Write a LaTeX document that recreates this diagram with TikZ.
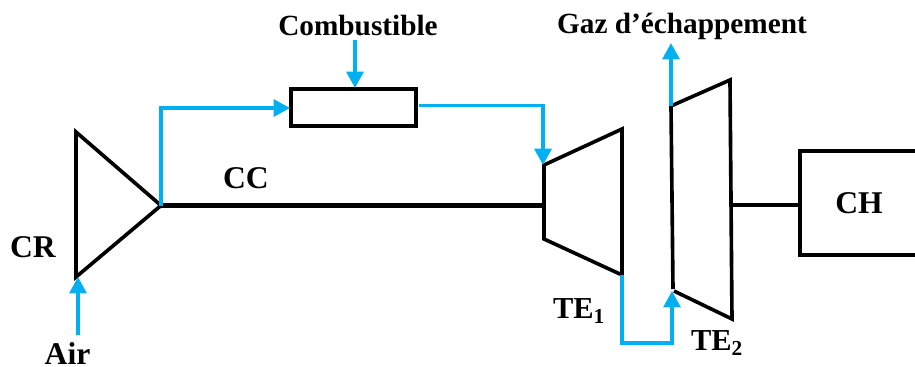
\documentclass[tikz,border=0pt]{standalone}
\usepackage{fontspec}
\setmainfont{Liberation Serif}
\usepackage{tikz}
\usetikzlibrary{arrows.meta}
\definecolor{flowblue}{HTML}{00B0F0}
\tikzset{
	part/.style={line width=3.1pt,line join=miter,black},
	flow/.style={line width=2.8pt,flowblue},
	flowarrow/.style={flow,-{Triangle[length=14pt,width=14.5pt]}},
	label/.style={font=\fontsize{27}{30}\selectfont\bfseries,inner sep=0pt},
}
\begin{document}
\begin{tikzpicture}[x=0.03cm,y=-0.03cm]
	\useasboundingbox (0,0) rectangle (915,367);
	% compressor
	\coordinate (crtop) at (76,132);
	\coordinate (crout) at (161,205.5);
	\coordinate (crin) at (76,277);
	\draw[part] (crtop) -- (crout) -- (crin) -- cycle;
	% combustion chamber
	\node [draw,part,minimum width=3.74cm,minimum height=1.1cm,inner sep=0pt] (cc) at (353.5,107.5) {};
	% first turbine
	\coordinate (teina) at (544,165);
	\coordinate (teinb) at (622,129);
	\coordinate (teouta) at (622,275);
	\coordinate (teoutb) at (544,239);
	\draw[part] (teina) -- (teinb) -- (teouta) -- (teoutb) -- cycle;
	% second turbine
	\coordinate (tfa) at (671,106);
	\coordinate (tfb) at (730,80);
	\coordinate (tfc) at (732,319);
	\coordinate (tfd) at (674,291);
	\coordinate (tfe) at (673,289);
	\draw[part] (tfe) -- (tfa) -- (tfb) -- (tfc) -- (tfd);
	% shafts
	\coordinate (shafta) at (543,205.5);
	\coordinate (shaftb) at (732,205);
	\coordinate (chw) at (800,205);
	\draw[line width=4.6pt] (crout) -- (shafta);
	\draw[part] (shaftb) -- (chw);
	% generator, cut by the right edge
	\coordinate (chne) at (915,151);
	\coordinate (chnw) at (800,151);
	\coordinate (chsw) at (800,255);
	\coordinate (chse) at (915,255);
	\draw[part] (chne) -- (chnw) -- (chsw) -- (chse);
	% flows
	\coordinate (aira) at (78,335);
	\coordinate (airb) at (78,277);
	\draw[flowarrow] (aira) -- (airb);
	\coordinate (bend) at (161,108);
	\coordinate (ccin) at (290,108);
	\draw[flowarrow] (crout) -- (bend) -- (ccin);
	\coordinate (fuela) at (355,40);
	\coordinate (fuelb) at (355,88);
	\draw[flowarrow] (fuela) -- (fuelb);
	\coordinate (ccout) at (419,105.5);
	\coordinate (hot) at (543,105.5);
	\coordinate (hotb) at (543,165);
	\draw[flowarrow] (ccout) -- (hot) -- (hotb);
	\coordinate (lowa) at (622,343);
	\coordinate (lowb) at (672,343);
	\coordinate (lowc) at (672,291);
	\draw[flowarrow] (teouta) -- (lowa) -- (lowb) -- (lowc);
	\coordinate (exit) at (671,43);
	\draw[flowarrow] (tfa) -- (exit);
	% texts
	\node [label,font=\fontsize{25}{28}\selectfont\bfseries] (fuel) at (358,26) {Combustible};
	\node [label,font=\fontsize{25}{28}\selectfont\bfseries] (gas) at (682,26) {Gaz d’échappement};
	\node [label] (crname) at (33,247) {CR};
	\node [label] (ccname) at (246,178) {CC};
	\node [label,anchor=base] (air) at (67.5,364) {Air};
	\node [label,font=\fontsize{26}{29}\selectfont\bfseries] (teone) at (579,311) {TE\textsubscript{1}};
	\node [label,font=\fontsize{26}{29}\selectfont\bfseries] (tetwo) at (717,343) {TE\textsubscript{2}};
	\node [label] (chname) at (859,203) {CH};
\end{tikzpicture}
\end{document}
